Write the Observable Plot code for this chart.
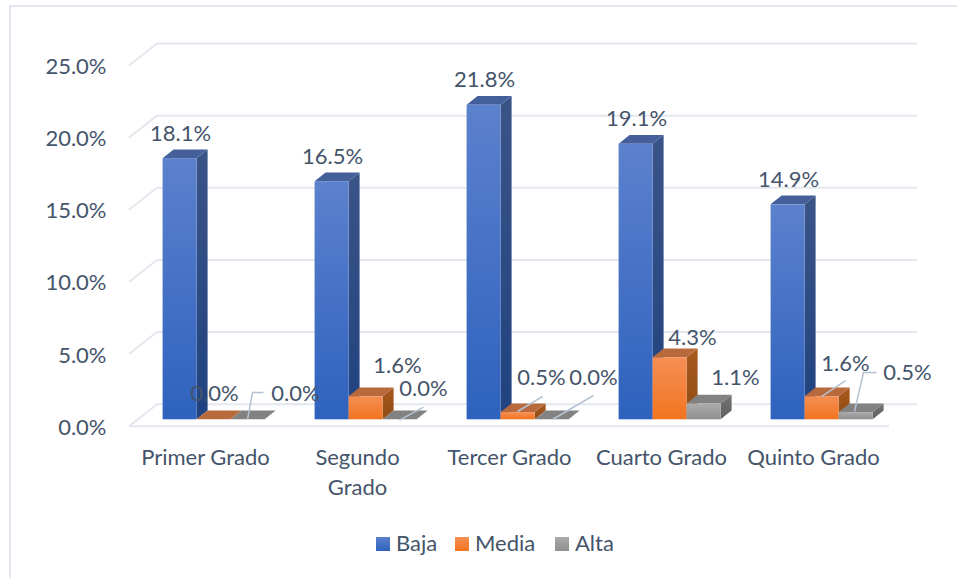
<!DOCTYPE html>
<html>
<head>
<meta charset="utf-8">
<script src="https://cdn.jsdelivr.net/npm/d3@7"></script>
<script src="https://cdn.jsdelivr.net/npm/@observablehq/plot@0.6"></script>
<style>
html,body{margin:0;padding:0;background:#fff;width:957px;height:578px;overflow:hidden;font-family:Lato,sans-serif;}
#frame{position:absolute;left:9px;top:5px;width:1200px;height:1200px;border:2px solid #E4E8EE;box-sizing:border-box;}
#chart{position:absolute;left:0;top:0;}
#legend{position:absolute;left:0;top:524px;width:957px;height:38px;color:#44546A;font-size:22px;}
.sw{position:absolute;top:13px;width:14px;height:14px;}
.lb{position:absolute;top:6px;line-height:26px;}
</style>
</head>
<body>
<div id="frame"></div>
<div id="chart"></div>
<div id="legend"></div>
<script>
const categories = ["Primer Grado", "Segundo Grado", "Tercer Grado", "Cuarto Grado", "Quinto Grado"];
const seriesNames = ["Baja", "Media", "Alta"];
const baja  = [18.1, 16.5, 21.8, 19.1, 14.9];
const media = [0.0, 1.6, 0.5, 4.3, 1.6];
const alta  = [0.0, 0.0, 0.0, 1.1, 0.5];
const yTicks = [0, 5, 10, 15, 20, 25];

const values = {Baja: baja, Media: media, Alta: alta};
const rows = seriesNames.flatMap(s => categories.map((c, i) => ({cat: c, series: s, value: values[s][i]})));

// Styling of the faces (pseudo-3D look of the original)
const faces = {
  Baja:  {top: "#445F9A", sideA: "#3B5488", sideB: "#20427F", frontA: "#5C81CD", frontB: "#2E62BD"},
  Media: {top: "#B96A3D", sideA: "#A8591F", sideB: "#8F4B12", frontA: "#F58F55", frontB: "#F2741F"},
  Alta:  {top: "#828282", sideA: "#747474", sideB: "#5F5F5F", frontA: "#ACACAC", frontB: "#8E8E8E"}
};
const ink = "#44546A", gridInk = "#E3E7EE", leaderInk = "#B5C2D3";
const depth = {wallX: 28, wallY: -22, barX: 11, barY: -8.7, planeX: 8.6, planeY: -6.4};
const insets = {Baja: [25, 93], Media: [59, 59], Alta: [93, 25]};
const seriesShift = {Baja: -34, Media: 0, Alta: 34};
const fontPx = 22;

// label nudges from the bar anchor, and leader polylines relative to the label
const nudge = {
  "Primer Grado|Media": [9, -32.7], "Primer Grado|Alta": [56, -32.7],
  "Segundo Grado|Media": [40, -37], "Segundo Grado|Alta": [32, -37],
  "Tercer Grado|Media": [32, -41.5], "Tercer Grado|Alta": [50, -48.7],
  "Cuarto Grado|Media": [31, -26.6], "Cuarto Grado|Alta": [40, -32.8],
  "Quinto Grado|Media": [32, -39.6], "Quinto Grado|Alta": [60, -46.5]
};
const leaders = {
  "Primer Grado|Alta": [[-48, 26], [-43, -1], [-32, -1]],
  "Segundo Grado|Alta": [[-24, 31], [0, 18]],
  "Tercer Grado|Media": [[-24, 34], [1, 19]],
  "Tercer Grado|Alta": [[-41, 42], [0, 18]],
  "Quinto Grado|Media": [[-24, 33], [0, 17]],
  "Quinto Grado|Alta": [[-53, 39], [-44, 0], [-31, 0]]
};

const svgNS = "http://www.w3.org/2000/svg";
function poly(points, fill) {
  const p = document.createElementNS(svgNS, "polygon");
  p.setAttribute("points", points.map(d => d.join(",")).join(" "));
  p.setAttribute("fill", fill);
  return p;
}

function barSeries(name) {
  const f = faces[name], data = rows.filter(d => d.series === name);
  return Plot.barY(data, {
    x: "cat", y1: 0, y2: "value",
    insetLeft: insets[name][0], insetRight: insets[name][1],
    fill: `url(#front-${name})`,
    dx: depth.planeX, dy: depth.planeY,
    render(index, scales, vals, dims, ctx, next) {
      const g = next(index, scales, vals, dims, ctx);
      const rects = Array.from(g.querySelectorAll("rect"));
      for (const rect of rects) {
        const x0 = +rect.getAttribute("x"), w = +rect.getAttribute("width");
        const yTop = +rect.getAttribute("y"), yBase = yTop + (+rect.getAttribute("height"));
        const x1 = x0 + w, a = depth.barX, b = depth.barY;
        g.insertBefore(poly([[x1, yTop], [x1 + a, yTop + b], [x1 + a, yBase + b], [x1, yBase]], `url(#side-${name})`), rect);
        g.insertBefore(poly([[x0, yTop], [x0 + a, yTop + b], [x1 + a, yTop + b], [x1, yTop]], f.top), rect);
      }
      return g;
    }
  });
}

function labelMark(r) {
  const key = r.cat + "|" + r.series;
  const [nx, ny] = r.series === "Baja" ? [9, -31.5] : nudge[key];
  return Plot.text([r], {
    x: "cat", y: "value",
    text: d => d.value.toFixed(1) + "%",
    fill: ink, fontSize: fontPx, dx: nx + seriesShift[r.series], dy: ny, lineAnchor: "middle",
    render(index, scales, vals, dims, ctx, next) {
      const g = next(index, scales, vals, dims, ctx);
      const pts = leaders[key];
      if (pts) {
        const cx = scales.x(r.cat), cy = scales.y(r.value);
        const p = document.createElementNS(svgNS, "polyline");
        p.setAttribute("points", pts.map(q => (cx + q[0]) + "," + (cy + q[1])).join(" "));
        p.setAttribute("fill", "none");
        p.setAttribute("stroke", leaderInk);
        p.setAttribute("stroke-width", 1.5);
        g.insertBefore(p, g.firstChild);
      }
      return g;
    }
  });
}

const plot = Plot.plot({
  width: 957, height: 525,
  marginLeft: 129, marginRight: 68, marginTop: 65, marginBottom: 99.3,
  style: {fontFamily: "Lato, sans-serif", fontSize: fontPx + "px", background: "transparent", overflow: "visible"},
  x: {domain: categories, padding: 0, round: false, axis: null, label: null},
  y: {domain: [0, 25], axis: null, label: null},
  marks: [
    // back wall gridlines plus left wall diagonals
    Plot.ruleY(yTicks, {
      stroke: gridInk, strokeWidth: 2, dx: depth.wallX, dy: depth.wallY,
      render(index, scales, vals, dims, ctx, next) {
        const g = next(index, scales, vals, dims, ctx);
        for (const i of index) {
          const l = document.createElementNS(svgNS, "line");
          const y = vals.y[i], x = dims.marginLeft;
          l.setAttribute("x1", x - depth.wallX); l.setAttribute("y1", y - depth.wallY);
          l.setAttribute("x2", x); l.setAttribute("y2", y);
          l.setAttribute("stroke", gridInk);
          g.appendChild(l);
        }
        return g;
      }
    }),
    Plot.ruleY([0], {stroke: gridInk, strokeWidth: 2}),
    ...seriesNames.map(barSeries),
    ...rows.map(labelMark),
    Plot.axisY(yTicks, {anchor: "left", tickSize: 0, tickPadding: 3, dx: -20, dy: 1.5, color: ink, fontSize: fontPx,
      tickFormat: d => d.toFixed(1) + "%", label: null}),
    Plot.axisX({anchor: "bottom", tickSize: 0, tickPadding: 17.5, color: ink, fontSize: fontPx, lineHeight: 1.36, label: null,
      tickFormat: d => d === "Segundo Grado" ? "Segundo\nGrado" : d})
  ]
});

// gradients used by the faces
const defs = d3.select(plot).insert("defs", ":first-child");
function grad(id, a, b) {
  const g = defs.append("linearGradient").attr("id", id).attr("x1", 0).attr("x2", 0).attr("y1", 0).attr("y2", 1);
  g.append("stop").attr("offset", "0%").attr("stop-color", a);
  g.append("stop").attr("offset", "100%").attr("stop-color", b);
}
for (const s of seriesNames) {
  grad("front-" + s, faces[s].frontA, faces[s].frontB);
  grad("side-" + s, faces[s].sideA, faces[s].sideB);
}
document.getElementById("chart").appendChild(plot);

// legend
const legendX = {Baja: 376, Media: 455, Alta: 555};
const legend = document.getElementById("legend");
for (const s of seriesNames) {
  const sw = document.createElement("div");
  sw.className = "sw";
  sw.style.left = legendX[s] + "px";
  sw.style.background = `linear-gradient(${faces[s].frontA}, ${faces[s].frontB})`;
  const lb = document.createElement("div");
  lb.className = "lb";
  lb.style.left = (legendX[s] + 20) + "px";
  lb.textContent = s;
  legend.append(sw, lb);
}
</script>
</body>
</html>
